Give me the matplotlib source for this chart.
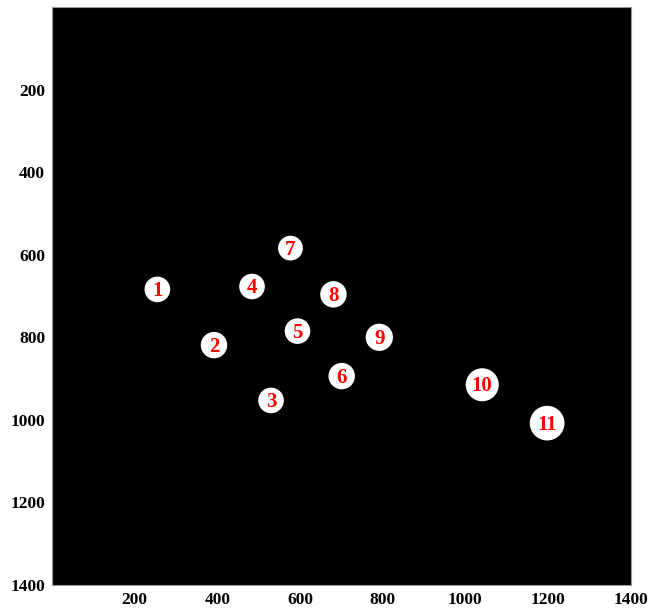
import matplotlib.pyplot as plt
from matplotlib.patches import Circle

# detected blob centres (pixel coords) and radii
labels = ['1', '2', '3', '4', '5', '6', '7', '8', '9', '10', '11']
cx = [255, 392, 530, 484, 594, 701, 577, 681, 792, 1041, 1198]
cy = [684, 819, 953, 677, 785, 894, 584, 696, 800, 915, 1008]
radius = [31, 32, 31, 31, 31, 32, 30, 32, 33, 40, 42]

ticks = [200, 400, 600, 800, 1000, 1200, 1400]

plt.rcParams['font.family'] = ['Liberation Serif', 'DejaVu Serif']

fig = plt.figure(figsize=(6.48, 6.10), dpi=100)
ax = fig.add_axes([0.0802, 0.041, 0.893, 0.9475])
ax.set_facecolor('black')

for lab, x, y, r in zip(labels, cx, cy, radius):
    ax.add_patch(Circle((x, y), r, facecolor='white', edgecolor='none'))
    ax.text(x, y + 4, lab, color='red', fontsize=15, fontweight='bold',
            ha='center', va='center')

ax.set_xlim(0, 1400)
ax.set_ylim(1400, 0)
ax.set_xticks(ticks)
ax.set_yticks(ticks)
ax.tick_params(length=0, pad=5, labelsize=12.5)
for t in ax.get_xticklabels() + ax.get_yticklabels():
    t.set_fontweight('bold')
for s in ax.spines.values():
    s.set_color('#999999')
    s.set_linewidth(0.8)

fig.savefig('out.png')
